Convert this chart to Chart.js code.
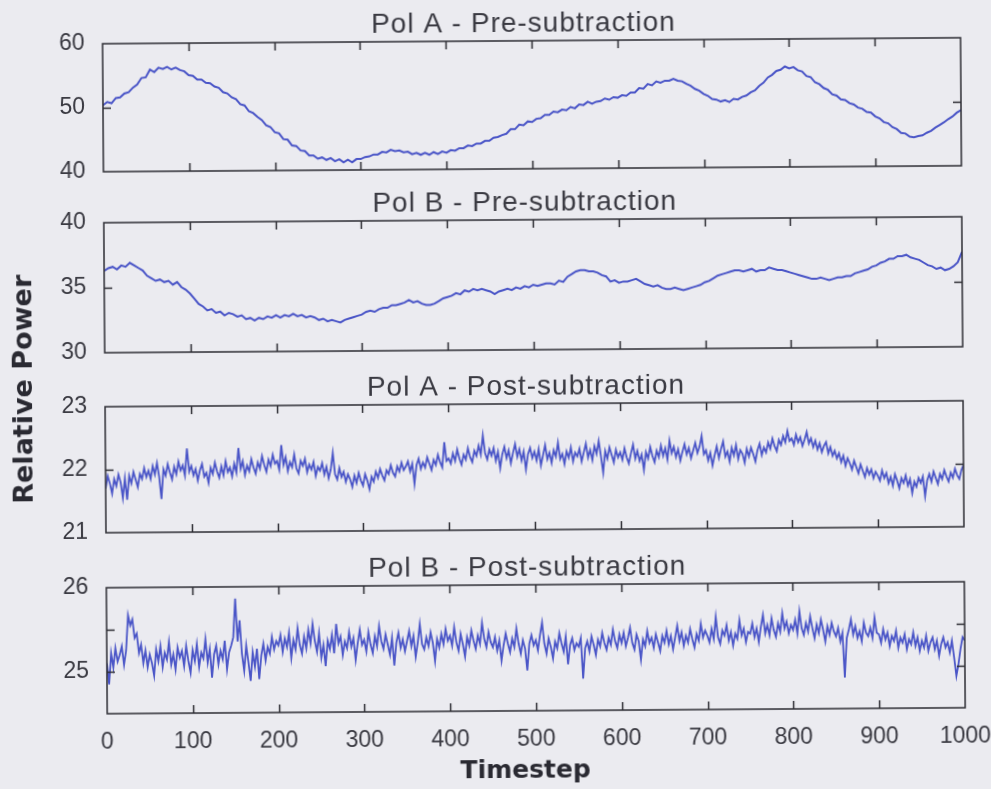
<!DOCTYPE html>
<html>
<head>
<meta charset="utf-8">
<title>Relative Power</title>
<script src="https://cdn.jsdelivr.net/npm/chart.js@4.4.1/dist/chart.umd.min.js"></script>
<style>
  html, body { margin: 0; padding: 0; width: 991px; height: 789px; overflow: hidden; background: #ebebf0; }
  #figure { position: absolute; left: 0; top: 0; width: 991px; height: 789px;
            transform: rotate(-0.4deg); transform-origin: 495px 394px; }
  #figure canvas { position: absolute; left: 0; top: 0; }
</style>
</head>
<body>
<div id="figure">
  <canvas id="panel1" width="991" height="789"></canvas>
  <canvas id="panel2" width="991" height="789"></canvas>
  <canvas id="panel3" width="991" height="789"></canvas>
  <canvas id="panel4" width="991" height="789"></canvas>
</div>
<script>
// ---- data -------------------------------------------------------------
const PRE_STEP = 5;    // timesteps between pre-subtraction samples
const POST_STEP = 2.5; // timesteps between post-subtraction samples

const timestepTicks  = [0, 100, 200, 300, 400, 500, 600, 700, 800, 900, 1000];
const timestepLabels = ['0', '100', '200', '300', '400', '500', '600', '700', '800', '900', '1000'];

const polAPreTicks   = [40, 50, 60];
const polAPreLabels  = ['40', '50', '60'];
const polBPreTicks   = [30, 35, 40];
const polBPreLabels  = ['30', '35', '40'];
const polAPostTicks  = [21, 22, 23];
const polAPostLabels = ['21', '22', '23'];
const polBPostTicks  = [24.5, 25, 25.5, 26];
const polBPostLabels = ['', '25', '', '26'];

const polAPre = [
  50.4, 50.9, 50.7, 51.5, 51.6, 52.2, 52.4, 53.1, 53.6, 54.6,
  54.7, 55.9, 55.5, 56.2, 56.0, 56.3, 55.9, 56.2, 55.8, 55.6,
  55.0, 54.9, 54.3, 54.3, 53.8, 53.7, 53.2, 53.0, 52.3, 52.1,
  51.5, 51.2, 50.4, 50.2, 49.3, 49.0, 48.4, 47.9, 47.1, 46.8,
  46.0, 45.8, 44.9, 44.8, 43.9, 43.8, 43.1, 43.0, 42.3, 42.3,
  41.8, 42.0, 41.6, 41.9, 41.4, 41.7, 41.2, 41.6, 41.2, 41.7,
  41.7, 42.0, 42.1, 42.4, 42.4, 42.8, 42.7, 43.1, 42.9, 43.0,
  42.7, 42.8, 42.4, 42.6, 42.3, 42.6, 42.3, 42.7, 42.4, 42.8,
  42.6, 43.0, 42.9, 43.3, 43.3, 43.7, 43.6, 44.0, 44.0, 44.4,
  44.4, 44.9, 45.0, 45.3, 45.5, 46.2, 46.2, 46.9, 46.8, 47.4,
  47.3, 47.8, 47.9, 48.4, 48.4, 48.9, 48.8, 49.2, 49.1, 49.6,
  49.4, 50.0, 49.9, 50.4, 50.1, 50.4, 50.5, 50.9, 50.7, 51.1,
  51.0, 51.4, 51.3, 51.8, 51.8, 52.5, 52.4, 53.1, 52.9, 53.5,
  53.3, 53.6, 53.6, 53.9, 53.6, 53.5, 53.1, 52.8, 52.3, 52.0,
  51.5, 51.2, 50.7, 50.6, 50.3, 50.5, 50.2, 50.7, 50.6, 51.0,
  51.2, 51.7, 52.0, 52.7, 53.2, 54.0, 54.4, 55.0, 55.2, 55.7,
  55.4, 55.6, 55.1, 54.9, 54.2, 54.0, 53.2, 52.9, 52.3, 52.0,
  51.3, 51.1, 50.5, 50.4, 49.9, 49.7, 49.2, 49.0, 48.5, 48.4,
  47.8, 47.5, 46.9, 46.7, 46.1, 45.8, 45.2, 45.1, 44.6, 44.5,
  44.7, 44.8, 45.2, 45.5, 46.0, 46.4, 46.8, 47.3, 47.7, 48.3,
  48.7
];

const polBPre = [
  36.3, 36.5, 36.6, 36.4, 36.7, 36.6, 36.9, 36.7, 36.5, 36.3,
  35.9, 35.7, 35.5, 35.6, 35.4, 35.5, 35.2, 35.4, 35.0, 34.8,
  34.5, 34.1, 33.7, 33.5, 33.2, 33.3, 33.0, 33.1, 32.8, 33.0,
  32.9, 32.7, 32.8, 32.5, 32.6, 32.4, 32.6, 32.5, 32.7, 32.6,
  32.8, 32.6, 32.8, 32.7, 32.9, 32.7, 32.8, 32.6, 32.7, 32.6,
  32.4, 32.5, 32.3, 32.4, 32.3, 32.2, 32.4, 32.5, 32.6, 32.7,
  32.8, 33.0, 33.1, 33.0, 33.2, 33.3, 33.3, 33.5, 33.5, 33.6,
  33.7, 33.9, 33.7, 33.8, 33.6, 33.5, 33.5, 33.6, 33.8, 34.0,
  34.1, 34.2, 34.4, 34.3, 34.6, 34.5, 34.7, 34.6, 34.7, 34.6,
  34.5, 34.3, 34.5, 34.6, 34.7, 34.6, 34.8, 34.7, 34.9, 34.8,
  35.0, 34.9, 35.0, 35.1, 35.1, 35.0, 35.3, 35.2, 35.6, 35.8,
  36.0, 36.1, 36.1, 36.0, 36.0, 35.9, 35.7, 35.6, 35.2, 35.3,
  35.1, 35.2, 35.2, 35.3, 35.4, 35.2, 35.0, 34.9, 34.8, 34.9,
  34.7, 34.6, 34.6, 34.7, 34.6, 34.5, 34.6, 34.7, 34.8, 34.9,
  35.1, 35.2, 35.4, 35.6, 35.7, 35.8, 35.9, 36.0, 36.0, 35.9,
  36.0, 36.1, 35.9, 36.0, 36.0, 36.2, 36.1, 36.0, 36.0, 35.9,
  35.8, 35.7, 35.6, 35.5, 35.4, 35.3, 35.3, 35.4, 35.3, 35.2,
  35.3, 35.4, 35.4, 35.5, 35.5, 35.7, 35.8, 35.9, 36.0, 36.2,
  36.3, 36.5, 36.6, 36.8, 36.8, 37.0, 37.0, 37.1, 36.9, 36.8,
  36.7, 36.5, 36.3, 36.2, 36.0, 36.1, 35.9, 36.0, 36.2, 36.5,
  37.3
];

const polAPost = [
  21.70, 21.90, 21.78, 21.62, 21.85, 21.74, 21.92, 21.80, 21.55, 21.86, 21.52, 21.90, 21.78, 21.96, 21.84, 21.72, 21.93, 21.85, 22.02, 21.88,
  21.98, 21.85, 22.05, 21.92, 22.10, 21.88, 21.53, 22.00, 21.90, 22.08, 21.95, 21.84, 22.04, 21.92, 22.12, 21.98, 22.06, 21.90, 22.33, 21.96,
  22.05, 21.90, 22.00, 21.82, 21.98, 22.08, 21.88, 21.94, 21.78, 22.02, 21.92, 22.10, 21.96, 21.86, 22.04, 21.90, 22.12, 21.95, 22.02, 21.88,
  22.08, 21.94, 22.33, 22.00, 22.12, 21.90, 22.05, 21.96, 22.15, 22.02, 21.92, 22.10, 22.00, 22.20, 22.06, 21.95, 22.14, 22.04, 22.22, 22.08,
  22.12, 21.98, 22.37, 22.06, 22.18, 21.96, 22.10, 22.02, 22.22, 22.00, 21.92, 22.12, 22.04, 22.15, 21.94, 22.06, 21.98, 22.10, 21.88, 22.02,
  21.96, 22.08, 21.90, 22.02, 21.84, 21.98, 22.24, 21.90, 21.82, 22.00, 21.86, 21.94, 21.78, 21.90, 21.82, 21.70, 21.88, 21.76, 21.92, 21.80,
  21.72, 21.90, 21.80, 21.66, 21.86, 21.78, 21.94, 21.84, 21.98, 21.88, 21.80, 21.96, 21.90, 22.04, 21.92, 21.86, 22.02, 21.94, 22.08, 21.96,
  22.02, 22.10, 21.94, 22.06, 21.74, 22.04, 22.14, 21.98, 22.08, 22.00, 22.16, 22.06, 21.96, 22.12, 22.04, 22.20, 22.08, 22.00, 22.40, 22.10,
  22.14, 22.06, 22.22, 22.10, 22.28, 22.14, 22.04, 22.20, 22.12, 22.30, 22.16, 22.08, 22.26, 22.18, 22.34, 22.20, 22.50, 22.22, 22.12, 22.28,
  22.18, 22.30, 22.10, 22.24, 21.98, 22.20, 22.32, 22.14, 22.26, 22.06, 22.22, 22.36, 22.16, 22.28, 22.10, 22.24, 21.96, 22.20, 22.30, 22.14,
  22.24, 22.10, 22.28, 22.02, 22.18, 22.34, 22.12, 22.22, 22.06, 22.26, 22.16, 22.38, 22.12, 22.20, 22.04, 22.24, 22.14, 22.30, 22.08, 22.22,
  22.16, 22.28, 22.08, 22.22, 22.36, 22.14, 22.26, 22.10, 22.32, 22.20, 22.40, 22.16, 21.90, 22.24, 22.12, 22.30, 22.18, 22.06, 22.26, 22.14,
  22.22, 22.10, 22.28, 22.14, 22.04, 22.20, 22.34, 22.12, 22.24, 22.08, 22.18, 21.94, 22.22, 22.12, 22.30, 22.16, 22.06, 22.24, 22.14, 22.32,
  22.16, 22.28, 22.10, 22.40, 22.20, 22.30, 22.14, 22.26, 22.08, 22.22, 22.34, 22.18, 22.28, 22.12, 22.24, 22.36, 22.20, 22.30, 22.47, 22.18,
  22.24, 22.08, 22.20, 22.00, 22.16, 22.30, 22.12, 22.26, 22.38, 22.14, 22.22, 22.06, 22.28, 22.16, 22.32, 22.10, 22.24, 22.18, 22.04, 22.26,
  22.14, 22.28, 22.18, 22.06, 22.24, 22.34, 22.16, 22.28, 22.20, 22.36, 22.26, 22.42, 22.30, 22.22, 22.40, 22.32, 22.46, 22.36, 22.54, 22.38,
  22.42, 22.32, 22.48, 22.36, 22.44, 22.30, 22.40, 22.52, 22.34, 22.42, 22.28, 22.38, 22.24, 22.34, 22.20, 22.30, 22.36, 22.18, 22.28, 22.14,
  22.22, 22.10, 22.18, 22.04, 22.14, 21.98, 22.10, 22.02, 21.92, 22.06, 21.96, 21.86, 22.00, 21.90, 21.80, 21.94, 21.84, 21.92, 21.78, 21.88,
  21.82, 21.74, 21.90, 21.78, 21.86, 21.70, 21.80, 21.66, 21.84, 21.74, 21.62, 21.78, 21.70, 21.82, 21.66, 21.76, 21.54, 21.72, 21.64, 21.78,
  21.70, 21.80, 21.49, 21.74, 21.84, 21.72, 21.88, 21.78, 21.68, 21.84, 21.76, 21.90, 21.80, 21.72, 21.86, 21.78, 21.92, 21.82, 21.76, 21.90,
  21.98
];

const polBPost = [
  25.10, 24.85, 25.22, 25.05, 25.28, 25.12, 25.20, 25.30, 25.08, 25.25, 25.67, 25.55, 25.62, 25.40, 25.45, 25.22, 25.32, 25.10, 25.25, 25.05,
  25.20, 25.10, 24.95, 25.26, 25.12, 25.30, 25.05, 25.22, 25.14, 25.35, 25.08, 25.20, 25.02, 25.28, 25.16, 25.24, 25.06, 25.30, 25.12, 24.98,
  25.25, 25.12, 25.32, 25.05, 25.22, 25.15, 25.38, 25.10, 25.26, 24.92, 25.20, 25.30, 25.08, 25.24, 25.14, 25.36, 25.02, 25.22, 25.30, 25.40,
  25.86, 25.35, 25.60, 25.20, 25.00, 25.30, 25.10, 24.88, 25.22, 25.05, 25.26, 24.90, 25.18, 25.32, 25.12, 25.28, 25.20, 25.40, 25.25, 25.35,
  25.30, 25.42, 25.22, 25.38, 25.28, 25.45, 25.15, 25.36, 25.25, 25.50, 25.30, 25.20, 25.40, 25.26, 25.48, 25.32, 25.55, 25.35, 25.22, 25.44,
  25.15, 25.30, 25.05, 25.35, 25.25, 25.42, 25.20, 25.55, 25.32, 25.40, 25.18, 25.34, 25.26, 25.45, 25.28, 25.38, 25.12, 25.32, 25.48, 25.30,
  25.36, 25.22, 25.45, 25.30, 25.20, 25.40, 25.28, 25.52, 25.34, 25.25, 25.42, 25.30, 25.18, 25.38, 25.05, 25.32, 25.44, 25.26, 25.36, 25.22,
  25.34, 25.46, 25.28, 25.40, 25.15, 25.32, 25.54, 25.30, 25.24, 25.38, 25.28, 25.44, 25.32, 25.10, 25.36, 25.26, 25.42, 25.30, 25.48, 25.34,
  25.40, 25.28, 25.50, 25.32, 25.22, 25.42, 25.30, 25.15, 25.38, 25.28, 25.46, 25.34, 25.24, 25.40, 25.30, 25.55, 25.36, 25.26, 25.44, 25.32,
  25.26, 25.38, 25.22, 25.34, 25.10, 25.28, 25.42, 25.30, 25.20, 25.36, 25.26, 25.48, 25.30, 25.18, 25.34, 25.24, 24.98, 25.30, 25.40, 25.28,
  25.34, 25.22, 25.40, 25.55, 25.30, 25.18, 25.36, 25.26, 25.12, 25.32, 25.24, 25.42, 25.30, 25.20, 25.38, 25.05, 25.28, 25.36, 25.22, 25.30,
  25.26, 25.36, 24.88, 25.24, 25.32, 25.20, 25.38, 25.28, 25.16, 25.34, 25.26, 25.42, 25.30, 25.22, 25.36, 25.28, 25.46, 25.32, 25.24, 25.40,
  25.30, 25.42, 25.26, 25.36, 25.48, 25.30, 25.22, 25.40, 25.32, 25.10, 25.34, 25.26, 25.44, 25.30, 25.36, 25.24, 25.40, 25.30, 25.20, 25.38,
  25.30, 25.44, 25.28, 25.38, 25.22, 25.36, 25.50, 25.32, 25.42, 25.26, 25.38, 25.30, 25.46, 25.34, 25.24, 25.40, 25.32, 25.52, 25.36, 25.44,
  25.38, 25.30, 25.46, 25.34, 25.60, 25.36, 25.28, 25.44, 25.38, 25.50, 25.32, 25.42, 25.26, 25.40, 25.34, 25.56, 25.38, 25.46, 25.30, 25.42,
  25.40, 25.52, 25.36, 25.46, 25.30, 25.48, 25.62, 25.40, 25.50, 25.38, 25.58, 25.44, 25.36, 25.52, 25.42, 25.64, 25.46, 25.54, 25.40, 25.50,
  25.44, 25.56, 25.40, 25.66, 25.46, 25.38, 25.52, 25.42, 25.60, 25.46, 25.34, 25.50, 25.40, 25.56, 25.44, 25.30, 25.48, 25.38, 25.52, 25.42,
  25.36, 25.46, 25.30, 25.40, 24.87, 25.34, 25.44, 25.56, 25.38, 25.48, 25.34, 25.42, 25.30, 25.52, 25.40, 25.36, 25.46, 25.34, 25.58, 25.40,
  25.38, 25.28, 25.44, 25.32, 25.40, 25.24, 25.36, 25.30, 25.42, 25.22, 25.34, 25.28, 25.38, 25.20, 25.32, 25.26, 25.40, 25.24, 25.34, 25.18,
  25.30, 25.22, 25.36, 25.18, 25.28, 25.34, 25.20, 25.30, 25.12, 25.26, 25.34, 25.22, 25.28, 25.16, 25.30, 25.10, 24.88, 25.02, 25.20, 25.34,
  25.30
];

const preTimestep  = polAPre.map((_, i) => i * PRE_STEP);
const postTimestep = polAPost.map((_, i) => i * POST_STEP);

// ---- layout & style ---------------------------------------------------
const W = 991, H = 789;
const FRAME_LEFT = 105, FRAME_RIGHT = 963;
const LINE_COLOR = '#4a55c7';
const AXIS_COLOR = '#2c2c33';
const TEXT_COLOR = '#3a3a42';
const TICK_FONT = { family: "'Liberation Sans', Arial, sans-serif", size: 23 };
const TICK_LEN = 8;

const panels = [
  { id: 'panel1', title: 'Pol A - Pre-subtraction',  values: polAPre,  x: preTimestep,  ticks: polAPreTicks,  labels: polAPreLabels,  top: 41,  bottom: 169, width: 2.0, showX: false, yLabel: 'Relative Power' },
  { id: 'panel2', title: 'Pol B - Pre-subtraction',  values: polBPre,  x: preTimestep,  ticks: polBPreTicks,  labels: polBPreLabels,  top: 220, bottom: 350, width: 2.0, showX: false },
  { id: 'panel3', title: 'Pol A - Post-subtraction', values: polAPost, x: postTimestep, ticks: polAPostTicks, labels: polAPostLabels, top: 404, bottom: 530, width: 1.8, showX: false },
  { id: 'panel4', title: 'Pol B - Post-subtraction', values: polBPost, x: postTimestep, ticks: polBPostTicks, labels: polBPostLabels, top: 585, bottom: 711, width: 1.8, showX: true, xLabel: 'Timestep' }
];

// Box frame with inward tick marks, the panel heading and the shared axis captions.
const framePlugin = {
  id: 'frame',
  afterDatasetsDraw(chart) {
    const { ctx, chartArea: a, scales: { x, y } } = chart;
    ctx.save();
    ctx.strokeStyle = AXIS_COLOR;
    ctx.lineWidth = 1.5;
    ctx.strokeRect(a.left, a.top, a.right - a.left, a.bottom - a.top);
    ctx.beginPath();
    x.ticks.forEach(t => {
      const px = Math.round(x.getPixelForValue(t.value)) + 0.5;
      if (px <= a.left + 2 || px >= a.right - 2) return;
      ctx.moveTo(px, a.top); ctx.lineTo(px, a.top + TICK_LEN);
      ctx.moveTo(px, a.bottom); ctx.lineTo(px, a.bottom - TICK_LEN);
    });
    y.ticks.forEach(t => {
      const py = Math.round(y.getPixelForValue(t.value)) + 0.5;
      if (py <= a.top + 2 || py >= a.bottom - 2) return;
      ctx.moveTo(a.left, py); ctx.lineTo(a.left + TICK_LEN, py);
      ctx.moveTo(a.right, py); ctx.lineTo(a.right - TICK_LEN, py);
    });
    ctx.stroke();
    ctx.restore();
  },
  afterDraw(chart, args, opts) {
    const { ctx, chartArea: a } = chart;
    ctx.save();
    ctx.fillStyle = TEXT_COLOR;
    ctx.textAlign = 'center';
    ctx.textBaseline = 'alphabetic';
    ctx.font = "28px 'Liberation Sans', Arial, sans-serif";
    ctx.letterSpacing = '1px';
    ctx.fillText(opts.title, 526, a.top - 9);
    ctx.letterSpacing = '0px';
    ctx.fillStyle = '#2a2a32';
    if (opts.xLabel) {
      ctx.font = "bold 25px 'DejaVu Sans', sans-serif";
      ctx.fillText(opts.xLabel, 523, 778);
    }
    if (opts.yLabel) {
      ctx.font = "bold 27px 'DejaVu Sans', sans-serif";
      ctx.translate(32, 386);
      ctx.rotate(-Math.PI / 2);
      ctx.fillText(opts.yLabel, 0, 0);
    }
    ctx.restore();
  }
};

panels.forEach(p => {
  new Chart(document.getElementById(p.id), {
    type: 'line',
    data: {
      datasets: [{
        data: p.values.map((v, i) => ({ x: p.x[i], y: v })),
        borderColor: LINE_COLOR,
        borderWidth: p.width,
        pointRadius: 0,
        tension: 0
      }]
    },
    options: {
      responsive: false,
      animation: false,
      events: [],
      layout: { padding: { left: 0, right: W - FRAME_RIGHT, top: p.top, bottom: p.showX ? 0 : H - p.bottom } },
      plugins: {
        legend: { display: false },
        tooltip: { enabled: false },
        frame: { title: p.title, xLabel: p.xLabel, yLabel: p.yLabel }
      },
      scales: {
        x: {
          type: 'linear',
          min: timestepTicks[0],
          max: timestepTicks[timestepTicks.length - 1],
          afterBuildTicks: s => { s.ticks = timestepTicks.map(v => ({ value: v })); },
          ticks: {
            display: p.showX, autoSkip: false, maxRotation: 0, padding: 7,
            color: TEXT_COLOR, font: TICK_FONT,
            callback: (v, i) => timestepLabels[i]
          },
          grid: { display: false },
          border: { display: false },
          afterFit: s => {
            s.height = p.showX ? H - p.bottom : 0;
            s.paddingLeft = 0; s.paddingRight = 0;
          }
        },
        y: {
          type: 'linear',
          min: p.ticks[0],
          max: p.ticks[p.ticks.length - 1],
          afterBuildTicks: s => { s.ticks = p.ticks.map(v => ({ value: v })); },
          ticks: {
            autoSkip: false, padding: 10,
            color: TEXT_COLOR, font: TICK_FONT,
            callback: (v, i) => p.labels[i]
          },
          grid: { display: false },
          border: { display: false },
          afterFit: s => { s.width = FRAME_LEFT; s.paddingTop = 0; s.paddingBottom = 0; }
        }
      }
    },
    plugins: [framePlugin]
  });
});
</script>
</body>
</html>
